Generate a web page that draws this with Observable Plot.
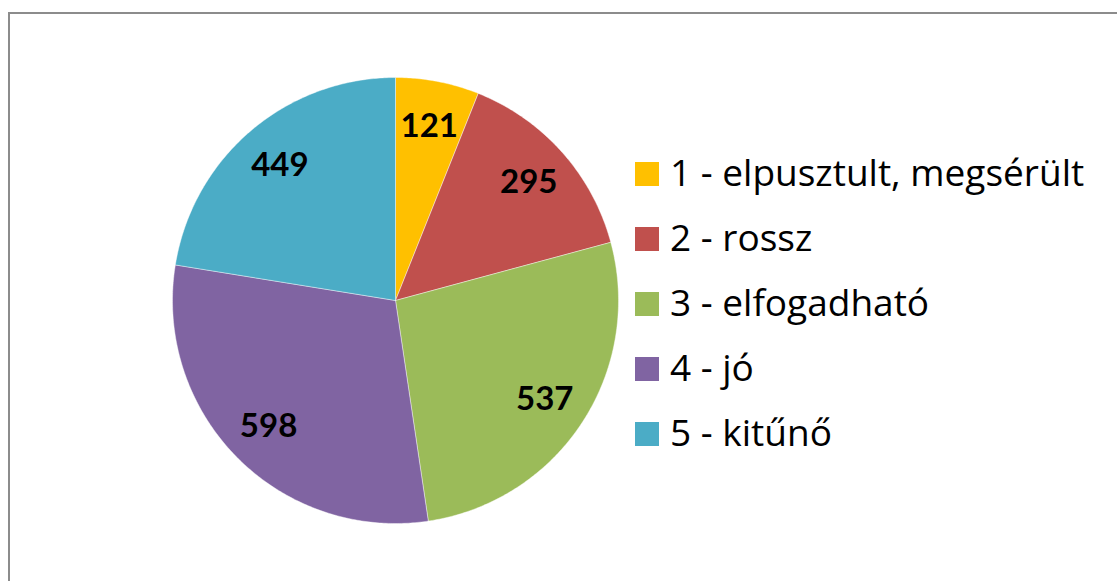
<!DOCTYPE html>
<html>
<head>
<meta charset="utf-8">
<script src="https://cdn.jsdelivr.net/npm/d3@7"></script>
<script src="https://cdn.jsdelivr.net/npm/@observablehq/plot@0.6"></script>
<style>
  html, body { margin: 0; padding: 0; background: #fff; }
  #wrap { position: relative; width: 1117px; height: 581px; overflow: hidden; font-family: Lato, "Open Sans", sans-serif; }
  #frame { position: absolute; left: 8px; top: 12px; width: 1200px; height: 700px; border: 2px solid #8c8c8c; box-sizing: border-box; }
  #chart { position: absolute; left: 0; top: 0; }
  #legend { position: absolute; left: 635px; top: 141px; }
  .row { display: flex; align-items: center; height: 65px; }
  .sw { width: 24px; height: 24px; margin-right: 11px; flex: none; }
  .lab { font-family: "Open Sans", sans-serif; font-size: 37px; color: #000; line-height: 1; position: relative; top: -2px; white-space: nowrap; }
</style>
</head>
<body>
<div id="wrap">
  <div id="frame"></div>
  <div id="chart"></div>
  <div id="legend"></div>
</div>
<script>
const categories = ["1 - elpusztult, megsérült", "2 - rossz", "3 - elfogadható", "4 - jó", "5 - kitűnő"];
const values = [121, 295, 537, 598, 449];
const colors = ["#FFC000", "#C0504D", "#9BBB59", "#8064A2", "#4BACC6"];

const total = d3.sum(values);
let acc = 0;
const slices = categories.map((c, i) => {
  const a0 = acc / total * 2 * Math.PI;
  acc += values[i];
  const a1 = acc / total * 2 * Math.PI;
  return {cat: c, value: values[i], a0, a1, mid: (a0 + a1) / 2};
});

// wedge outline points (geometry derived from the values)
const wedgePts = [];
for (const s of slices) {
  wedgePts.push({cat: s.cat, x: 0, y: 0});
  const n = Math.max(2, Math.ceil((s.a1 - s.a0) / 0.01));
  for (let k = 0; k <= n; k++) {
    const a = s.a0 + (s.a1 - s.a0) * k / n;
    wedgePts.push({cat: s.cat, x: Math.sin(a), y: Math.cos(a)});
  }
  wedgePts.push({cat: s.cat, x: 0, y: 0});
}
const labels = slices.map(s => ({label: String(s.value), x: 0.8 * Math.sin(s.mid), y: 0.8 * Math.cos(s.mid)}));

const chart = Plot.plot({
  width: 1117,
  height: 581,
  margin: 0,
  x: {domain: [-1, 1], range: [172, 618], axis: null},
  y: {domain: [-1, 1], range: [523, 77], axis: null},
  color: {domain: categories, range: colors},
  style: {background: "transparent", overflow: "visible"},
  marks: [
    Plot.line(wedgePts, {x: "x", y: "y", z: "cat", fill: "cat", stroke: "white", strokeWidth: 0.6, strokeOpacity: 0.7, curve: "linear"}),
    Plot.text(labels, {x: "x", y: "y", text: "label", fontSize: 33, fontWeight: "bold", fontFamily: "Lato, 'Open Sans', sans-serif", fill: "#000", dy: 1})
  ]
});
document.getElementById("chart").appendChild(chart);

const leg = document.getElementById("legend");
categories.forEach((c, i) => {
  const row = document.createElement("div");
  row.className = "row";
  const sw = document.createElement("div");
  sw.className = "sw";
  sw.style.background = colors[i];
  const lab = document.createElement("div");
  lab.className = "lab";
  lab.textContent = c;
  row.appendChild(sw);
  row.appendChild(lab);
  leg.appendChild(row);
});
</script>
</body>
</html>
